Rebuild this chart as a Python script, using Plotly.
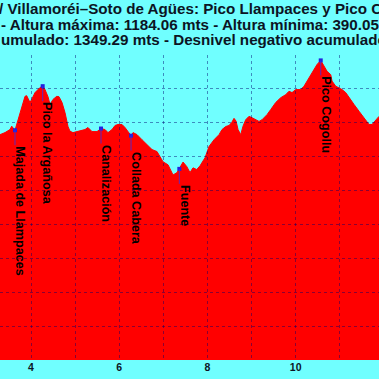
import plotly.graph_objects as go

# ---- data ----
dist_km = [3.297, 3.410, 3.524, 3.562, 3.637, 3.751, 3.864, 3.902, 3.977, 4.016,
           4.091, 4.204, 4.265, 4.317, 4.385, 4.431, 4.499, 4.583, 4.635, 4.703,
           4.771, 4.839, 4.884, 4.952, 5.066, 5.156, 5.224, 5.292, 5.383, 5.497,
           5.587, 5.678, 5.746, 5.837, 5.905, 5.973, 6.063, 6.131, 6.199, 6.268,
           6.313, 6.404, 6.517, 6.630, 6.744, 6.857, 6.925, 6.993, 7.107, 7.220,
           7.311, 7.363, 7.447, 7.531, 7.605, 7.673, 7.757, 7.832, 7.946, 8.036,
           8.150, 8.263, 8.331, 8.415, 8.490, 8.551, 8.603, 8.649, 8.694, 8.755,
           8.807, 8.868, 8.943, 9.011, 9.095, 9.170, 9.238, 9.351, 9.435, 9.549,
           9.662, 9.775, 9.850, 9.918, 10.002, 10.115, 10.190, 10.258, 10.342, 10.417,
           10.485, 10.569, 10.644, 10.712, 10.796, 10.825, 10.909, 10.984, 11.052, 11.136,
           11.211, 11.324, 11.438, 11.551, 11.664, 11.732, 11.816, 11.891]
elev_m = [965, 971, 980, 990, 978, 1030, 1078, 1080, 1060, 1069,
          1089, 1104, 1108, 1098, 1077, 1054, 1069, 1078, 1077, 1060,
          1030, 989, 975, 971, 974, 977, 980, 986, 974, 974,
          983, 980, 971, 980, 992, 995, 995, 986, 974, 962,
          971, 965, 950, 936, 921, 915, 900, 885, 876, 846,
          853, 864, 884, 871, 853, 867, 862, 873, 897, 930,
          950, 965, 980, 989, 992, 1001, 1013, 1005, 980, 965,
          990, 1009, 1019, 1015, 1009, 1004, 1009, 1024, 1039, 1060,
          1074, 1083, 1093, 1089, 1098, 1098, 1108, 1123, 1142, 1157,
          1172, 1184.06, 1167, 1152, 1142, 1123, 1108, 1103, 1098, 1089,
          1074, 1054, 1034, 1015, 995, 995, 1009, 1019]

wp_names = ["Majada de Llampaces", "Pico la Argañosa", "Canalización",
            "Collada Cabera", "Fuente", "Pico Cogollu"]
wp_km = [3.637, 4.265, 5.587, 6.268, 7.363, 10.569]
wp_elev = [978, 1108, 983, 962, 864, 1184.06]

title_lines = [
    "/ Villamoréi–Soto de Agües: Pico Llampaces y Pico Cogollu",
    "- Altura máxima: 1184.06 mts - Altura mínima: 390.05 mts",
    "umulado: 1349.29 mts - Desnivel negativo acumulado: 1349.29 mts",
]
x_tick_vals = [4, 6, 8, 10]
x_range = [3.297, 11.89]
y_range = [300, 1200]

# ---- styling ----
W = H = 379
M_T, M_B = 55, 19
PLOT_H = H - M_T - M_B
BG = "#70FFFF"
FONT = "Liberation Sans, Arial, sans-serif"
DARK = "#0c1424"
GRID = "rgba(0,0,110,0.45)"

fig = go.Figure()
fig.add_trace(go.Scatter(
    x=dist_km, y=elev_m, mode="lines", fill="tozeroy",
    fillcolor="#FF0000", line=dict(color="#FF0000", width=1),
    hoverinfo="skip", showlegend=False, xaxis="x", yaxis="y"))
fig.add_trace(go.Scatter(
    x=wp_km, y=wp_elev, mode="markers",
    marker=dict(color="#2222dd", size=4, symbol="square"),
    hoverinfo="skip", showlegend=False, xaxis="x", yaxis="y"))
# second subplot on the same domain: carries the dotted grid above the fill
fig.add_trace(go.Scatter(
    x=[x_range[0]], y=[y_range[0]], mode="markers", marker=dict(opacity=0),
    hoverinfo="skip", showlegend=False, xaxis="x2", yaxis="y2"))

annotations = []
# title lines (clipped by the canvas edges, as in the reference)
title_px = [(-3.5, 8.7), (-1.3, 24.7), (-1.5, 39.0)]
for txt, (px, py) in zip(title_lines, title_px):
    annotations.append(dict(
        text=txt, xref="paper", yref="paper",
        x=px / W, y=(H - M_B - py) / PLOT_H,
        xanchor="left", yanchor="middle", showarrow=False,
        font=dict(family=FONT, size=15.2, color=DARK, weight="bold")))

shapes = []
for name, xk, ye in zip(wp_names, wp_km, wp_elev):
    annotations.append(dict(
        text=name, x=xk, y=ye, xref="x", yref="y", textangle=90,
        showarrow=False, xanchor="center", yanchor="top",
        xshift=5, yshift=-14,
        font=dict(family=FONT, size=12.6, color="black", weight="bold")))
    shapes.append(dict(
        type="line", xref="x", yref="y", x0=xk, x1=xk,
        ysizemode="pixel", yanchor=ye, y0=0, y1=-15,
        line=dict(color="#3333ee", width=0.8), layer="above"))

fig.update_layout(
    width=W, height=H,
    margin=dict(l=0, r=0, t=M_T, b=M_B, pad=0),
    paper_bgcolor=BG, plot_bgcolor="rgba(0,0,0,0)",
    showlegend=False,
    xaxis=dict(range=x_range, domain=[0, 1], anchor="y",
               tickvals=x_tick_vals, ticks="", showgrid=False,
               zeroline=False, showline=False, ticklabelstandoff=-1,
               tickfont=dict(family=FONT, size=10.5, color=DARK, weight="bold")),
    yaxis=dict(range=y_range, domain=[0, 1], anchor="x",
               showgrid=False, zeroline=False, showline=False,
               showticklabels=False, ticks=""),
    xaxis2=dict(range=x_range, domain=[0, 1], anchor="y2",
                dtick=1, tick0=0, showgrid=True, gridcolor=GRID,
                griddash="dot", gridwidth=1, zeroline=False,
                showline=False, showticklabels=False, ticks=""),
    yaxis2=dict(range=y_range, domain=[0, 1], anchor="x2",
                dtick=100, tick0=0, showgrid=True, gridcolor=GRID,
                griddash="dot", gridwidth=1, zeroline=False,
                showline=False, showticklabels=False, ticks=""),
    annotations=annotations,
    shapes=shapes,
)

fig.write_html(
    "out.html",
    config={"displayModeBar": False},
    post_script="document.body.style.margin='0';document.body.style.overflow='hidden';",
)
